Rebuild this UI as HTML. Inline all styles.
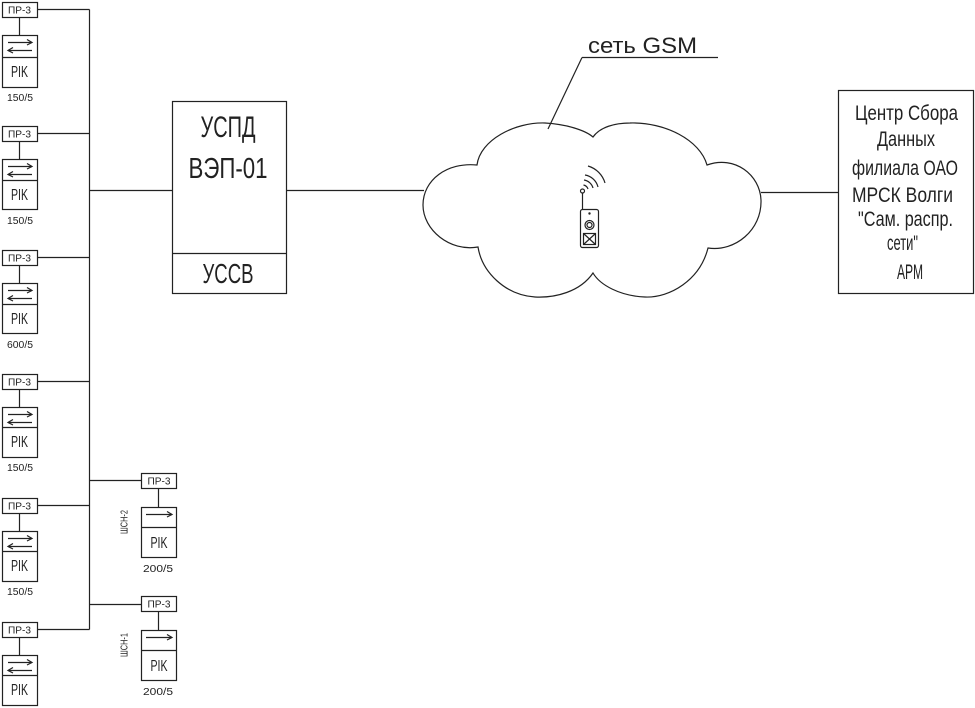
<!DOCTYPE html>
<html><head><meta charset="utf-8"><style>
html,body{margin:0;padding:0;background:#fff;}
svg{display:block;}
text{font-family:"Liberation Sans Narrow","Liberation Sans",sans-serif;fill:#222;}
</style></head><body>
<svg width="975" height="708" viewBox="0 0 975 708" xmlns="http://www.w3.org/2000/svg">
<g stroke="#222" stroke-width="1.2" fill="none">
<!-- bus -->
<line x1="89.5" y1="9.5" x2="89.5" y2="629.5"/>
<line x1="89.5" y1="190.5" x2="172" y2="190.5"/>
<line x1="89.5" y1="480.5" x2="141" y2="480.5"/>
<line x1="89.5" y1="604.5" x2="141" y2="604.5"/>
<!-- left groups -->
<g id="g0">
<rect x="2.5" y="2.5" width="35" height="15"/>
<line x1="37.5" y1="9.5" x2="89.5" y2="9.5"/>
<line x1="19.5" y1="17.5" x2="19.5" y2="35.5"/>
<rect x="2.5" y="35.5" width="35" height="52"/>
<line x1="2.5" y1="57.5" x2="37.5" y2="57.5"/>
<line x1="8" y1="42.5" x2="32" y2="42.5"/><polyline points="27,39.5 32,42.5 27,45"/>
<line x1="8" y1="50.5" x2="32" y2="50.5"/><polyline points="13,47.5 8,50.5 13,53"/>
</g>
<g transform="translate(0,124)">
<rect x="2.5" y="2.5" width="35" height="15"/>
<line x1="37.5" y1="9.5" x2="89.5" y2="9.5"/>
<line x1="19.5" y1="17.5" x2="19.5" y2="35.5"/>
<rect x="2.5" y="35.5" width="35" height="50"/>
<line x1="2.5" y1="56.5" x2="37.5" y2="56.5"/>
<line x1="8" y1="42.5" x2="32" y2="42.5"/><polyline points="27,39.5 32,42.5 27,45"/>
<line x1="8" y1="50.5" x2="32" y2="50.5"/><polyline points="13,47.5 8,50.5 13,53"/>
</g>
<g transform="translate(0,248)">
<rect x="2.5" y="2.5" width="35" height="15"/>
<line x1="37.5" y1="9.5" x2="89.5" y2="9.5"/>
<line x1="19.5" y1="17.5" x2="19.5" y2="35.5"/>
<rect x="2.5" y="35.5" width="35" height="50"/>
<line x1="2.5" y1="56.5" x2="37.5" y2="56.5"/>
<line x1="8" y1="42.5" x2="32" y2="42.5"/><polyline points="27,39.5 32,42.5 27,45"/>
<line x1="8" y1="50.5" x2="32" y2="50.5"/><polyline points="13,47.5 8,50.5 13,53"/>
</g>
<g transform="translate(0,372)">
<rect x="2.5" y="2.5" width="35" height="15"/>
<line x1="37.5" y1="9.5" x2="89.5" y2="9.5"/>
<line x1="19.5" y1="17.5" x2="19.5" y2="35.5"/>
<rect x="2.5" y="35.5" width="35" height="50"/>
<line x1="2.5" y1="55.5" x2="37.5" y2="55.5"/>
<line x1="8" y1="42.5" x2="32" y2="42.5"/><polyline points="27,39.5 32,42.5 27,45"/>
<line x1="8" y1="50.5" x2="32" y2="50.5"/><polyline points="13,47.5 8,50.5 13,53"/>
</g>
<g transform="translate(0,496)">
<rect x="2.5" y="2.5" width="35" height="15"/>
<line x1="37.5" y1="9.5" x2="89.5" y2="9.5"/>
<line x1="19.5" y1="17.5" x2="19.5" y2="35.5"/>
<rect x="2.5" y="35.5" width="35" height="50"/>
<line x1="2.5" y1="55.5" x2="37.5" y2="55.5"/>
<line x1="8" y1="42.5" x2="32" y2="42.5"/><polyline points="27,39.5 32,42.5 27,45"/>
<line x1="8" y1="50.5" x2="32" y2="50.5"/><polyline points="13,47.5 8,50.5 13,53"/>
</g>
<g transform="translate(0,620)">
<rect x="2.5" y="2.5" width="35" height="15"/>
<line x1="37.5" y1="9.5" x2="89.5" y2="9.5"/>
<line x1="19.5" y1="17.5" x2="19.5" y2="35.5"/>
<rect x="2.5" y="35.5" width="35" height="50"/>
<line x1="2.5" y1="55.5" x2="37.5" y2="55.5"/>
<line x1="8" y1="42.5" x2="32" y2="42.5"/><polyline points="27,39.5 32,42.5 27,45"/>
<line x1="8" y1="50.5" x2="32" y2="50.5"/><polyline points="13,47.5 8,50.5 13,53"/>
</g>
<!-- ШСН groups -->
<g transform="translate(0,473)">
<rect x="141.5" y="0.5" width="35" height="15"/>
<line x1="158.5" y1="15.5" x2="158.5" y2="34.5"/>
<rect x="141.5" y="34.5" width="35" height="50"/>
<line x1="141.5" y1="54.5" x2="176.5" y2="54.5"/>
<line x1="146" y1="41.5" x2="172" y2="41.5"/><polyline points="167,38.5 172,41.5 167,44"/>
</g>
<g transform="translate(0,596)">
<rect x="141.5" y="0.5" width="35" height="15"/>
<line x1="158.5" y1="15.5" x2="158.5" y2="34.5"/>
<rect x="141.5" y="34.5" width="35" height="50"/>
<line x1="141.5" y1="54.5" x2="176.5" y2="54.5"/>
<line x1="146" y1="41.5" x2="172" y2="41.5"/><polyline points="167,38.5 172,41.5 167,44"/>
</g>
<!-- USPD -->
<rect x="172.5" y="101.5" width="114" height="192"/>
<line x1="172.5" y1="253.5" x2="286.5" y2="253.5"/>
<line x1="286.5" y1="190.5" x2="424" y2="190.5"/>
<!-- cloud -->
<path d="M477,165 C480,140 515,122 545,123 C565,124 585,130 593,137 C600,127 615,123 630,123 C665,122 700,140 707,165 C735,155 760,175 761,200 C762,230 735,252 708,248 C700,280 670,298 645,297 C620,296 600,285 593,273 C580,292 555,298 535,297 C505,295 482,272 478,247 C450,252 423,230 423,205 C423,180 447,162 477,165 Z"/>
<line x1="582" y1="57.5" x2="718" y2="57.5"/>
<line x1="582" y1="57.5" x2="548" y2="129"/>
<line x1="761" y1="192.5" x2="838" y2="192.5"/>
<!-- ARM box -->
<rect x="838.5" y="90.5" width="135" height="203"/>
<!-- device -->
<line x1="582.5" y1="193" x2="582.5" y2="210"/>
<circle cx="582.5" cy="191" r="2"/>
<path d="M583.5,185 A6,6 0 0 1 588,189"/>
<path d="M584,180 A11,11 0 0 1 593,188"/>
<path d="M585,175 A16,16 0 0 1 598,187"/>
<path d="M588,166 A25,25 0 0 1 605,183"/>
<rect x="580.5" y="209.5" width="18" height="38" rx="2"/>
<circle cx="589.5" cy="225" r="4.5"/>
<circle cx="589.5" cy="225" r="2.5"/>
<rect x="583.5" y="233.5" width="12" height="11"/>
<line x1="583.5" y1="233.5" x2="595.5" y2="244.5"/>
<line x1="595.5" y1="233.5" x2="583.5" y2="244.5"/>
</g>
<circle cx="589.5" cy="213.5" r="1.2" fill="#222"/>

<!-- left texts -->
<g font-size="10" text-anchor="middle">
<text x="19.5" y="13.5" textLength="23" lengthAdjust="spacingAndGlyphs">ПР-3</text>
<text x="19.5" y="137.5" textLength="23" lengthAdjust="spacingAndGlyphs">ПР-3</text>
<text x="19.5" y="261.5" textLength="23" lengthAdjust="spacingAndGlyphs">ПР-3</text>
<text x="19.5" y="385.5" textLength="23" lengthAdjust="spacingAndGlyphs">ПР-3</text>
<text x="19.5" y="509.5" textLength="23" lengthAdjust="spacingAndGlyphs">ПР-3</text>
<text x="19.5" y="633.5" textLength="23" lengthAdjust="spacingAndGlyphs">ПР-3</text>
<text x="159" y="484.5" textLength="23" lengthAdjust="spacingAndGlyphs">ПР-3</text>
<text x="159" y="607.5" textLength="23" lengthAdjust="spacingAndGlyphs">ПР-3</text>
<text x="20" y="101" textLength="26" lengthAdjust="spacingAndGlyphs">150/5</text>
<text x="20" y="224" textLength="26" lengthAdjust="spacingAndGlyphs">150/5</text>
<text x="20" y="348" textLength="26" lengthAdjust="spacingAndGlyphs">600/5</text>
<text x="20" y="471" textLength="26" lengthAdjust="spacingAndGlyphs">150/5</text>
<text x="20" y="595" textLength="26" lengthAdjust="spacingAndGlyphs">150/5</text>
<text x="158" y="572" textLength="30" lengthAdjust="spacingAndGlyphs">200/5</text>
<text x="158" y="695" textLength="30" lengthAdjust="spacingAndGlyphs">200/5</text>
<text transform="translate(127.5,522) rotate(-90)" textLength="24" lengthAdjust="spacingAndGlyphs">ШСН-2</text>
<text transform="translate(127.5,645) rotate(-90)" textLength="24" lengthAdjust="spacingAndGlyphs">ШСН-1</text>
</g>
<g font-size="16" text-anchor="middle">
<text x="19.5" y="77" textLength="17" lengthAdjust="spacingAndGlyphs">PIK</text>
<text x="19.5" y="200" textLength="17" lengthAdjust="spacingAndGlyphs">PIK</text>
<text x="19.5" y="324" textLength="17" lengthAdjust="spacingAndGlyphs">PIK</text>
<text x="19.5" y="447" textLength="17" lengthAdjust="spacingAndGlyphs">PIK</text>
<text x="19.5" y="571" textLength="17" lengthAdjust="spacingAndGlyphs">PIK</text>
<text x="19.5" y="695" textLength="17" lengthAdjust="spacingAndGlyphs">PIK</text>
<text x="159" y="548" textLength="17" lengthAdjust="spacingAndGlyphs">PIK</text>
<text x="159" y="671" textLength="17" lengthAdjust="spacingAndGlyphs">PIK</text>
</g>
<!-- USPD texts -->
<g text-anchor="middle">
<text x="228" y="137" font-size="30" textLength="55" lengthAdjust="spacingAndGlyphs">УСПД</text>
<text x="228" y="178" font-size="29" textLength="79" lengthAdjust="spacingAndGlyphs">ВЭП-01</text>
<text x="228" y="283" font-size="28" textLength="51" lengthAdjust="spacingAndGlyphs">УССВ</text>
<text x="642.5" y="53" font-size="22" textLength="109" lengthAdjust="spacingAndGlyphs">сеть GSM</text>
</g>
<!-- ARM texts -->
<g text-anchor="middle" font-size="21">
<text x="906.5" y="120" textLength="103" lengthAdjust="spacingAndGlyphs">Центр Сбора</text>
<text x="906" y="146" textLength="58" lengthAdjust="spacingAndGlyphs">Данных</text>
<text x="905" y="175" textLength="106" lengthAdjust="spacingAndGlyphs">филиала ОАО</text>
<text x="902.5" y="202" textLength="101" lengthAdjust="spacingAndGlyphs">МРСК Волги</text>
<text x="905.5" y="226" textLength="95" lengthAdjust="spacingAndGlyphs">"Сам. распр.</text>
<text x="902.5" y="250" textLength="31" lengthAdjust="spacingAndGlyphs">сети"</text>
<text x="910" y="279" textLength="26" lengthAdjust="spacingAndGlyphs">АРМ</text>
</g>
</svg>
</body></html>
